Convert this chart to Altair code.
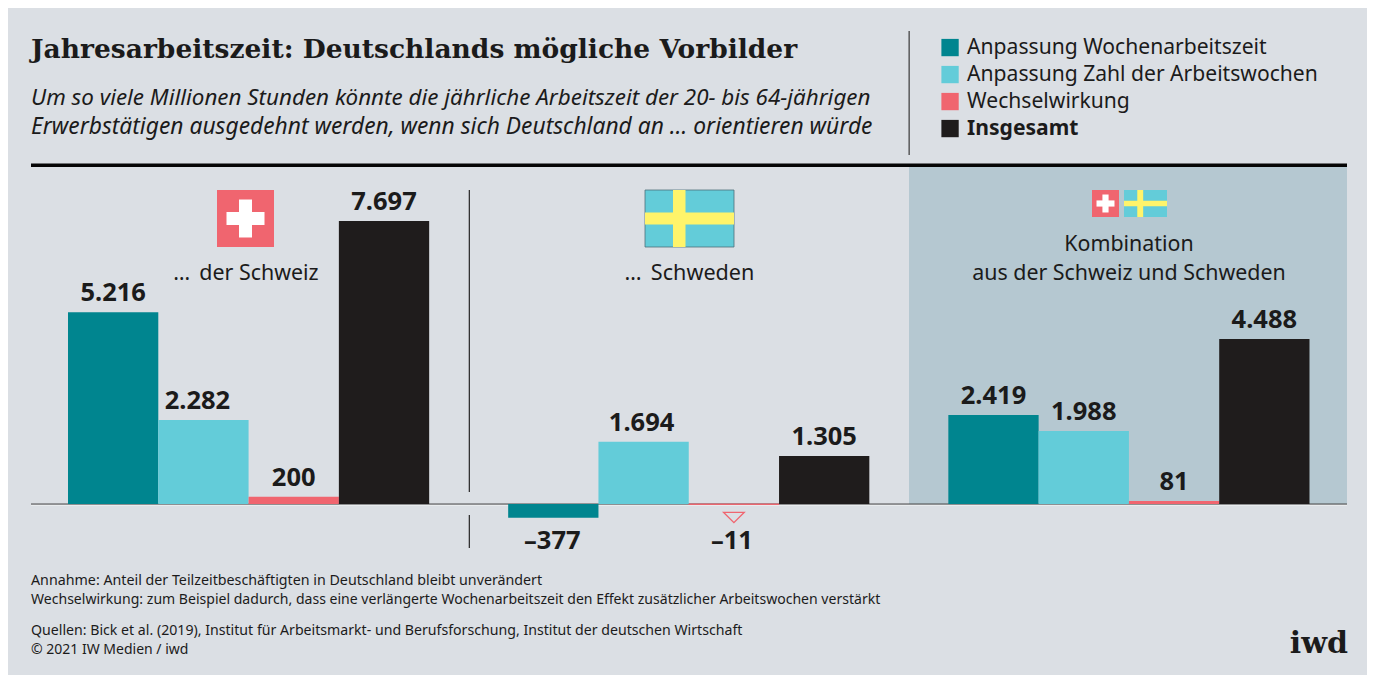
import altair as alt
import pandas as pd

# ---- data ----
groups = ["Schweiz", "Schweden", "Kombination"]
series = ["Anpassung Wochenarbeitszeit", "Anpassung Zahl der Arbeitswochen", "Wechselwirkung", "Insgesamt"]
schweiz = [5216, 2282, 200, 7697]
schweden = [-377, 1694, -11, 1305]
kombination = [2419, 1988, 81, 4488]
colors = ["#00858f", "#63ccd9", "#f0656f", "#1f1c1c"]

BG = "#dbdfe4"
PANEL = "#b5c8d1"
INK = "#1b1b1b"
YEL = "#fff46a"
SANS = "Noto Sans"
SERIF = "DejaVu Serif"
GROUP_STEP = 4.875

rows = []
for g, vals in enumerate([schweiz, schweden, kombination]):
    for i, v in enumerate(vals):
        start = g * GROUP_STEP + i
        label = f"{abs(v):,}".replace(",", ".")
        rows.append(dict(group=groups[g], series=series[i], value=v, start=start, end=start + 1,
                         center=start + 0.5, label=("–" if v < 0 else "") + label))
df = pd.DataFrame(rows)

x_scale = alt.Scale(domain=[0, 13.75], range=[60, 1301.5])
y_scale = alt.Scale(domain=[0, 7697], range=[496, 213])
X = lambda f: alt.X(f, scale=x_scale, axis=None)
Y = lambda f: alt.Y(f, scale=y_scale, axis=None)

BLANK = alt.Data(values=[{}])


def rect(x0, y0, x1, y1, fill, **kw):
    return alt.Chart(BLANK).mark_rect(fill=fill, **kw).encode(
        x=alt.value(x0 - 8), x2=alt.value(x1 - 8), y=alt.value(y0 - 8), y2=alt.value(y1 - 8))


def text(s, x, y, size, align="left", font=SANS, weight="normal", style="normal", color=INK):
    return alt.Chart(BLANK).mark_text(align=align, baseline="alphabetic", font=font, fontSize=size,
                                      fontWeight=weight, fontStyle=style, color=color).encode(
        x=alt.value(x - 8), y=alt.value(y - 8), text=alt.value(s))


def swiss(x0, y0, s):
    u = s / 57
    cx, cy = x0 + s / 2, y0 + s / 2
    return [rect(x0, y0, x0 + s, y0 + s, colors[2]),
            rect(cx - 19 * u, cy - 6.5 * u, cx + 19 * u, cy + 6.5 * u, "white"),
            rect(cx - 6.5 * u, cy - 19 * u, cx + 6.5 * u, cy + 19 * u, "white")]


def sweden(x0, y0, w, h, **kw):
    u = h / 57
    return [rect(x0, y0, x0 + w, y0 + h, colors[1], **kw),
            rect(x0, y0 + 22.5 * u, x0 + w, y0 + 34.5 * u, YEL),
            rect(x0 + 28 * u, y0, x0 + 40.5 * u, y0 + h, YEL)]


layers = [
    rect(909, 167, 1347, 504, PANEL),
    rect(31, 163.5, 1347, 167, "#050505"),
    rect(908.5, 31, 909.8, 155, "#444444"),
    rect(468.7, 190, 470, 492, "#333333"),
    rect(468.7, 515, 470, 548, "#333333"),
    rect(31, 503.4, 1347, 504.8, "#4a4a4a"),
    rect(31, 504.8, 1347, 505.8, "#eef0f2"),
]
layers += swiss(217, 190, 57)
layers += sweden(645, 190, 89, 57, stroke="#4f6f78", strokeWidth=0.8)
layers += swiss(1092, 190, 27)
layers += sweden(1124, 190, 43, 27)

bars = alt.Chart(df).mark_bar(stroke=None, strokeWidth=0).encode(
    x=X("start:Q"), x2="end:Q", y=Y("value:Q"), y2=alt.datum(0),
    color=alt.Color("series:N", sort=series,
                    scale=alt.Scale(domain=series, range=colors),
                    legend=alt.Legend(title=None, orient="none", legendX=931.5, legendY=29,
                                      symbolType="square", symbolSize=300, symbolStrokeWidth=0,
                                      symbolOpacity=1, labelFont=SANS, labelFontSize=21.1,
                                      labelColor=INK, labelLimit=420, rowPadding=5, labelOffset=6.5,
                                      labelFontWeight=alt.expr("datum.label == 'Insgesamt' ? 700 : 400"))))
thin = alt.Chart(df).transform_filter("datum.value == -11").mark_bar(
    stroke=colors[2], strokeWidth=0.8, fill=colors[2]).encode(
    x=X("start:Q"), x2="end:Q", y=Y("value:Q"), y2=alt.datum(0))
layers += [bars, thin]

lab = dict(align="center", baseline="alphabetic", font=SANS, fontSize=25.5, fontWeight="bold", color=INK)


def labels(cond, **kw):
    return alt.Chart(df).transform_filter(cond).mark_text(**kw, **lab).encode(
        x=X("center:Q"), y=Y("value:Q"), text="label:N")


layers += [
    labels("datum.value > 0 && datum.value != 2282 && datum.value != 1694", dy=-11),
    labels("datum.value == 2282", dy=-11, dx=-6),
    labels("datum.value == 1694", dy=-11, dx=-2),
    labels("datum.value == -377", dy=31, dx=-1),
    labels("datum.value == -11", dy=44.6, dx=-2),
]
layers.append(alt.Chart(df).transform_filter("datum.value == -11").mark_point(
    shape="M -1 -0.5 L 1 -0.5 L 0 0.5 Z", size=420, filled=False, stroke=colors[2], strokeWidth=1.4, opacity=1).encode(
    x=X("center:Q"), y=alt.value(509.5)))

layers += [
    text("Jahresarbeitszeit: Deutschlands mögliche Vorbilder", 31, 57.5, 26.5, font=SERIF, weight="bold"),
    text("Um so viele Millionen Stunden könnte die jährliche Arbeitszeit der 20- bis 64-jährigen", 31, 105, 22.4, style="italic"),
    text("Erwerbstätigen ausgedehnt werden, wenn sich Deutschland an … orientieren würde", 31, 134, 22.8, style="italic"),
    text("…\u2009 der Schweiz", 246, 280, 21.4, "center"),
    text("…\u2009 Schweden", 689.5, 280, 21.6, "center"),
    text("Kombination", 1129, 251, 21.4, "center"),
    text("aus der Schweiz und Schweden", 1129, 280, 21.4, "center"),
    text("Annahme: Anteil der Teilzeitbeschäftigten in Deutschland bleibt unverändert", 31, 585, 14.25),
    text("Wechselwirkung: zum Beispiel dadurch, dass eine verlängerte Wochenarbeitszeit den Effekt zusätzlicher Arbeitswochen verstärkt", 31, 604, 14.05),
    text("Quellen: Bick et al. (2019), Institut für Arbeitsmarkt- und Berufsforschung, Institut der deutschen Wirtschaft", 31, 635, 14.15),
    text("© 2021 IW Medien / iwd", 31, 654, 14),
    text("iwd", 1348, 653, 30, "right", font=SERIF, weight="bold"),
]

chart = alt.layer(*layers).properties(
    width=1359, height=667, padding=0, autosize="none", background=BG
).configure_view(stroke=None)

chart.save("out.html", embed_options={"renderer": "svg", "actions": False})
